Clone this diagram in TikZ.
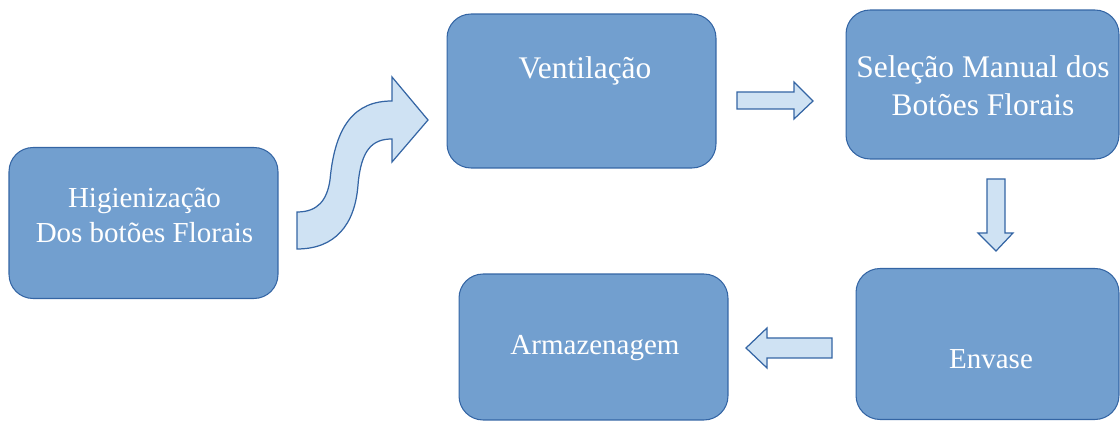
\documentclass[tikz,border=0pt]{standalone}
\usepackage{fontspec}
\setmainfont{Liberation Serif}
\definecolor{boxfill}{RGB}{114,159,207}
\definecolor{boxline}{RGB}{52,101,164}
\definecolor{arrfill}{RGB}{207,226,243}
\tikzset{
  stage/.style={draw=boxline, fill=boxfill, line width=0.6pt, rounded corners=0.48cm, inner sep=0pt},
  stagetext/.style={text=white, font=\fontsize{16.5}{19.8}\selectfont, align=center, inner sep=0pt},
  bigtext/.style={stagetext, font=\fontsize{17.9}{21.5}\selectfont},
  blockarrow/.style={draw=boxline, fill=arrfill, line width=0.7pt, line join=miter}
}
\begin{document}
\begin{tikzpicture}[x=0.02cm, y=-0.02cm]
      \useasboundingbox (0, 0) rectangle (1120, 421);

      \node[stage, minimum width=5.38cm, minimum height=3.02cm] (hig) at (143.5, 223) {};
      \node[stage, minimum width=5.38cm, minimum height=3.08cm] (vent) at (581.5, 91) {};
      \node[stage, minimum width=5.46cm, minimum height=2.98cm] (sel) at (982.5, 84.5) {};
      \node[stage, minimum width=5.26cm, minimum height=3.02cm] (env) at (987.5, 344) {};
      \node[stage, minimum width=5.38cm, minimum height=2.92cm] (arm) at (593.5, 347) {};

      \node[stagetext] (higtxt) at (144.5, 215) {Higienização\\Dos botões Florais};
      \node[bigtext, anchor=base] (venttxt) at (585, 79) {Ventilação};
      \node[bigtext] (seltxt) at (983, 86) {Seleção Manual dos\\Botões Florais};
      \node[stagetext, anchor=base] (envtxt) at (991, 369) {Envase};
      \node[stagetext, anchor=base] (armtxt) at (595, 355) {Armazenagem};

        % curved arrow
        \draw[blockarrow] (297, 212) .. controls (318, 212) and (327, 200) .. (330, 180)
            .. controls (335, 125) and (355, 101) .. (392, 101)
            -- (392, 77) -- (428, 120) -- (392, 162) -- (392, 139)
            .. controls (372, 139) and (361, 150) .. (358, 185)
            .. controls (355, 225) and (335, 249) .. (297, 249) -- cycle;

        % straight arrows
        \draw[blockarrow] (737, 92) -- (794, 92) -- (794, 82) -- (813, 101)
            -- (794, 119) -- (794, 109) -- (737, 109) -- cycle;
        \draw[blockarrow] (987, 179) -- (1005, 179) -- (1005, 233) -- (1013, 233)
            -- (996, 251) -- (978, 233) -- (987, 233) -- cycle;
        \draw[blockarrow] (832, 338) -- (767, 338) -- (767, 328) -- (746, 348)
            -- (767, 368) -- (767, 358) -- (832, 358) -- cycle;
\end{tikzpicture}
\end{document}
